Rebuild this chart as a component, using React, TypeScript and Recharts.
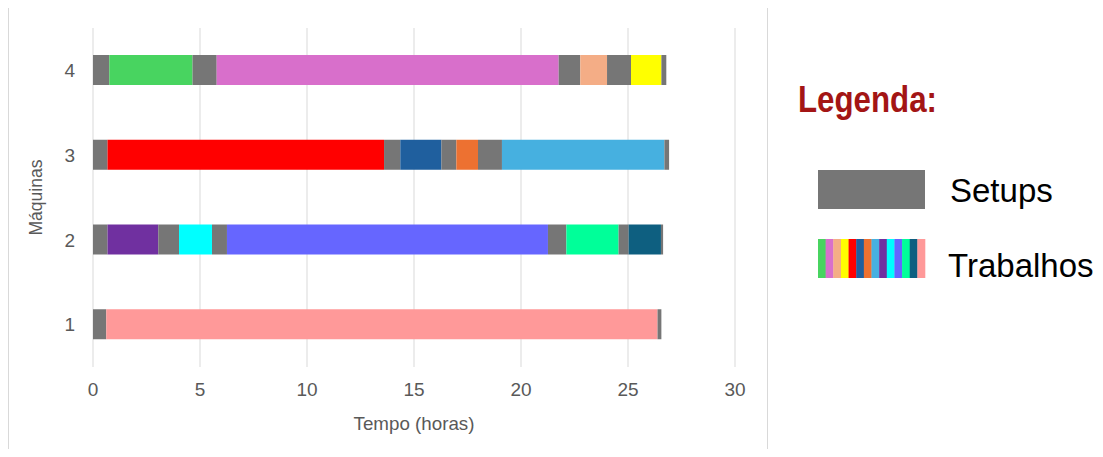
import { BarChart, Bar, Cell, XAxis, YAxis, CartesianGrid } from 'recharts';

// Cor única para todos os setups
const SETUP = '#767676';

const maquinas = ['1', '2', '3', '4'];
const ticksTempo = [0, 5, 10, 15, 20, 25, 30];

// Durações (horas) alternando setup / trabalho, começando sempre por setup
const duracoesM1 = [0.62, 25.76, 0.18];
const duracoesM2 = [0.68, 2.37, 0.97, 1.54, 0.7, 15.0, 0.86, 2.44, 0.47, 1.51, 0.1];
const duracoesM3 = [0.68, 12.92, 0.76, 1.92, 0.7, 1.01, 1.12, 7.59, 0.22];
const duracoesM4 = [0.76, 3.89, 1.13, 15.98, 1.01, 1.25, 1.12, 1.42, 0.23];

// Cores dos trabalhos de cada máquina, pela ordem de execução
const trabalhosM1 = ['#FF9999'];
const trabalhosM2 = ['#7030A0', '#00FFFF', '#6666FF', '#00FF99', '#0E5F80'];
const trabalhosM3 = ['#FF0000', '#1F5F9E', '#ED7131', '#46B0E0'];
const trabalhosM4 = ['#48D460', '#D86FCB', '#F4AD86', '#FFFF00'];

const duracoes = [duracoesM1, duracoesM2, duracoesM3, duracoesM4];
const trabalhos = [trabalhosM1, trabalhosM2, trabalhosM3, trabalhosM4];
const coresLegenda = [...trabalhosM4, ...trabalhosM3, ...trabalhosM2, ...trabalhosM1];

const nSegmentos = Math.max(...duracoes.map((d) => d.length));

const data = maquinas.map((maquina, i) => {
    const linha: Record<string, string | number> = { maquina };
    duracoes[i].forEach((d, k) => {
        linha[`s${k}`] = d;
    });
    return linha;
});

const corSegmento = (i: number, k: number) => (k % 2 === 0 ? SETUP : trabalhos[i][(k - 1) / 2]);

const FONTE_EIXO = "'Liberation Sans Narrow', 'Liberation Sans', sans-serif";
const COR_TEXTO = '#595959';

export default function App() {
    return (
        <div style={{ position: 'relative', width: 1087, height: 441 }}>
            <div
                style={{
                    position: 'absolute',
                    left: 0,
                    top: -2,
                    width: 760,
                    height: 444,
                    border: '1px solid #d9d9d9',
                    boxSizing: 'border-box',
                }}
            />
            <div style={{ position: 'absolute', left: 0, top: 0 }}>
                <BarChart
                    width={760}
                    height={442}
                    data={data}
                    layout="vertical"
                    margin={{ top: 20, right: 33, left: 0, bottom: 23 }}
                    barCategoryGap={0}
                >
                    <CartesianGrid horizontal={false} stroke="#d9d9d9" />
                    <XAxis
                        type="number"
                        domain={[0, 30]}
                        ticks={ticksTempo}
                        height={60}
                        axisLine={false}
                        tickLine={false}
                        tickSize={0}
                        tickMargin={16}
                        tick={{ fontSize: 19, fill: COR_TEXTO, fontFamily: FONTE_EIXO }}
                        label={{
                            content: ({ viewBox }: any) => (
                                <text
                                    x={viewBox.x + viewBox.width / 2}
                                    y={viewBox.y + 63}
                                    textAnchor="middle"
                                    fontSize={19}
                                    fill={COR_TEXTO}
                                    fontFamily={FONTE_EIXO}
                                    textLength={121}
                                    lengthAdjust="spacingAndGlyphs"
                                >
                                    Tempo (horas)
                                </text>
                            ),
                        }}
                    />
                    <YAxis
                        type="category"
                        dataKey="maquina"
                        reversed
                        width={85}
                        axisLine={false}
                        tickLine={false}
                        tickSize={0}
                        tickMargin={18}
                        tick={{ fontSize: 19, fill: COR_TEXTO, fontFamily: FONTE_EIXO }}
                        label={{
                            content: ({ viewBox }: any) => {
                                const cy = viewBox.y + viewBox.height / 2;
                                return (
                                    <text
                                        x={27}
                                        y={cy}
                                        transform={`rotate(-90, 27, ${cy})`}
                                        textAnchor="middle"
                                        dominantBaseline="central"
                                        fontSize={19}
                                        fill={COR_TEXTO}
                                        fontFamily={FONTE_EIXO}
                                        textLength={76}
                                        lengthAdjust="spacingAndGlyphs"
                                    >
                                        Máquinas
                                    </text>
                                );
                            },
                        }}
                    />
                    {Array.from({ length: nSegmentos }).map((_, k) => (
                        <Bar key={k} dataKey={`s${k}`} stackId="t" barSize={30} isAnimationActive={false}>
                            {data.map((_, i) => (
                                <Cell key={i} fill={corSegmento(i, k)} />
                            ))}
                        </Bar>
                    ))}
                </BarChart>
            </div>
            <svg
                width={317}
                height={441}
                style={{ position: 'absolute', left: 770, top: 0 }}
            >
                <text
                    x={20}
                    y={104}
                    fontSize={37}
                    fontWeight="bold"
                    fill="#A31515"
                    fontFamily={FONTE_EIXO}
                    textLength={139}
                    lengthAdjust="spacingAndGlyphs"
                >
                    Legenda:
                </text>
                <rect x={40} y={162} width={107} height={39} fill={SETUP} />
                <text x={172} y={194} fontSize={33} fill="#000" fontFamily="'Liberation Sans', sans-serif">
                    Setups
                </text>
                {coresLegenda.map((cor, i) => (
                    <rect
                        key={i}
                        x={40 + (107 / coresLegenda.length) * i}
                        y={231}
                        width={107 / coresLegenda.length + 0.3}
                        height={39}
                        fill={cor}
                    />
                ))}
                <text x={170} y={269} fontSize={33} fill="#000" fontFamily="'Liberation Sans', sans-serif">
                    Trabalhos
                </text>
            </svg>
        </div>
    );
}
